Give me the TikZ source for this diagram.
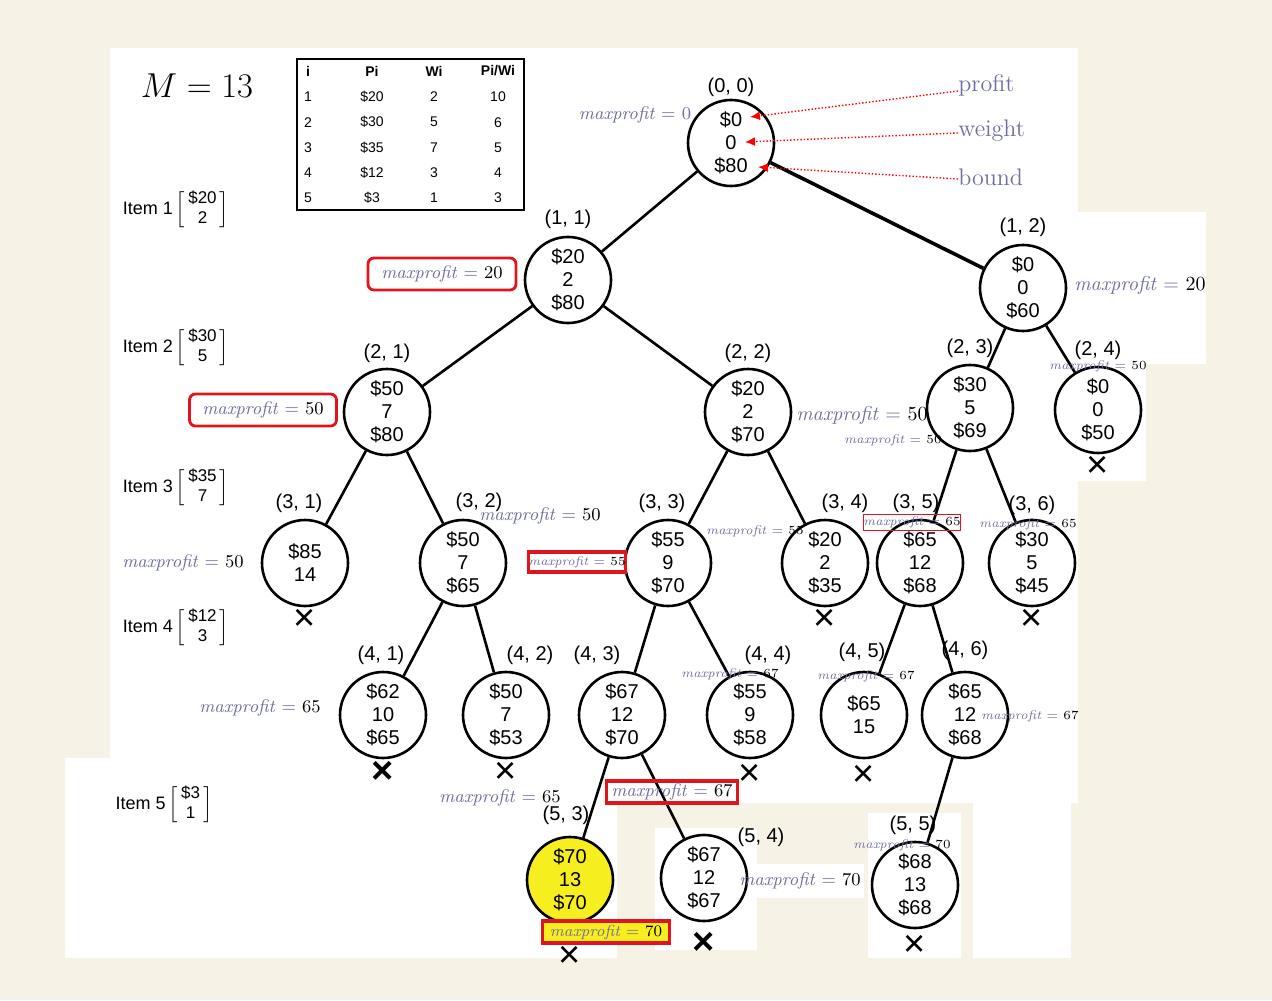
\documentclass[tikz,border=0pt]{standalone}
\usepackage{fontspec}
\setsansfont{Liberation Sans}
\usetikzlibrary{arrows.meta, positioning}
\usepackage{xcolor}

\definecolor{cream}{HTML}{F6F3E6}
\definecolor{mpblue}{HTML}{6E6EA0}
\definecolor{boxred}{HTML}{E0141C}
\definecolor{hlyellow}{HTML}{F6EE1E}

\newcommand{\maxp}[1]{\textcolor{mpblue}{\textit{maxprofit} =}~#1}
\newcommand{\itemvec}[3]{Item #1\,$\left[\begin{array}{@{\,}c@{\,}}\mbox{\fontsize{8.5}{9}\selectfont #2}\\[1pt]\mbox{\fontsize{8.5}{9}\selectfont #3}\end{array}\right]$}

\begin{document}
\begin{tikzpicture}[x=0.5pt, y=-0.5pt]

  % styles
  \tikzstyle{state} = [circle, draw=black, line width=1.3pt, minimum size=43pt, inner sep=0pt, align=center, font=\sffamily\fontsize{10}{11.5}\selectfont]
  \tikzstyle{idx} = [inner sep=1pt, font=\sffamily\fontsize{10}{10}\selectfont]
  \tikzstyle{cut} = [inner sep=0pt, font=\sffamily\fontsize{19}{19}\selectfont]
  \tikzstyle{edge} = [line width=1.3pt]
  \tikzstyle{mpa} = [inner sep=0pt, font=\fontsize{9}{9}\selectfont]
  \tikzstyle{mpb} = [inner sep=0pt, font=\fontsize{6.2}{6.2}\selectfont]
  \tikzstyle{mpc} = [inner sep=0pt, font=\fontsize{10}{10}\selectfont]
  \tikzstyle{hit} = [draw=boxred, line width=1.4pt, inner sep=0pt]
  \tikzstyle{tab} = [inner sep=0pt, font=\sffamily\fontsize{7}{7}\selectfont]
  \tikzstyle{note} = [anchor=west, inner sep=0pt, text=mpblue, font=\fontsize{12}{12}\selectfont]
  \tikzstyle{pointer} = [draw=red, densely dotted, line width=0.7pt, -{Latex[length=5pt, width=4.5pt]}]
  \tikzstyle{itemlbl} = [font=\sffamily\fontsize{9}{9}\selectfont]

  % background
  \fill[cream] (0,0) rectangle (1272,1000);
  \fill[white] (110,48) rectangle (1078,803);
  \fill[white] (1078,212) rectangle (1206,364);
  \fill[white] (1078,364) rectangle (1146,481);
  \fill[white] (65,758) rectangle (617,958);
  \fill[white] (655,828) rectangle (757,950);
  \fill[white] (740,864) rectangle (864,898);
  \fill[white] (868,813) rectangle (961,958);
  \fill[white] (973,803) rectangle (1071,958);
  \useasboundingbox (0,0) rectangle (1272,1000);

  % capacity and table
  \node (cap) at (197,86) {\fontsize{18}{18}\selectfont $M = 13$};
  \draw[line width=0.8pt] (297,59) rectangle (524,210);
  \node (hi) [tab] at (308,71) {\bfseries i};
  \node (hp) [tab] at (372,71) {\bfseries Pi};
  \node (hw) [tab] at (434,71) {\bfseries Wi};
  \node (hr) [tab] at (498,71) {\bfseries Pi/Wi};
  \foreach \i/\p/\w/\r [count=\k from 0] in {1/\$20/2/10, 2/\$30/5/6, 3/\$35/7/5, 4/\$12/3/4, 5/\$3/1/3} {
    \node (ti\i) [tab] at (308,{97+25.2*\k}) {\i};
    \node (tp\i) [tab] at (372,{97+25.2*\k}) {\p};
    \node (tw\i) [tab] at (434,{97+25.2*\k}) {\w};
    \node (tr\i) [tab] at (498,{97+25.2*\k}) {\r};
  }

  % items
  \node (it1) [itemlbl] at (176,210) {\itemvec{1}{\$20}{2}};
  \node (it2) [itemlbl] at (176,348) {\itemvec{2}{\$30}{5}};
  \node (it3) [itemlbl] at (176,488) {\itemvec{3}{\$35}{7}};
  \node (it4) [itemlbl] at (176,628) {\itemvec{4}{\$12}{3}};
  \node (it5) [itemlbl] at (164,805) {\itemvec{5}{\$3}{1}};

  % tree
  \node (n00) [state] at (731,143) {\$0\\0\\\$80};
  \node (n11) [state] at (568,280) {\$20\\2\\\$80};
  \node (n12) [state] at (1023,288) {\$0\\0\\\$60};
  \node (n21) [state] at (387,412) {\$50\\7\\\$80};
  \node (n22) [state] at (748,412) {\$20\\2\\\$70};
  \node (n23) [state] at (970,408) {\$30\\5\\\$69};
  \node (n24) [state] at (1098,410) {\$0\\0\\\$50};
  \node (n31) [state] at (305,563) {\$85\\14};
  \node (n32) [state] at (463,563) {\$50\\7\\\$65};
  \node (n33) [state] at (668,563) {\$55\\9\\\$70};
  \node (n34) [state] at (825,563) {\$20\\2\\\$35};
  \node (n35) [state] at (920,563) {\$65\\12\\\$68};
  \node (n36) [state] at (1032,563) {\$30\\5\\\$45};
  \node (n41) [state] at (383,715) {\$62\\10\\\$65};
  \node (n42) [state] at (506,715) {\$50\\7\\\$53};
  \node (n43) [state] at (622,715) {\$67\\12\\\$70};
  \node (n44) [state] at (750,715) {\$55\\9\\\$58};
  \node (n45) [state] at (864,715) {\$65\\15};
  \node (n46) [state] at (965,715) {\$65\\12\\\$68};
  \node (n53) [state, fill=hlyellow] at (570,880) {\$70\\13\\\$70};
  \node (n54) [state] at (704,878) {\$67\\12\\\$67};
  \node (n55) [state] at (915,885) {\$68\\13\\\$68};

  % node labels
  \node (l00) [idx, above=0pt of n00] {(0, 0)};
  \node (l11) [idx, above=2.5pt of n11] {(1, 1)};
  \node (l12) [idx, above=2.5pt of n12] {(1, 2)};
  \node (l21) [idx, above=1.5pt of n21] {(2, 1)};
  \node (l22) [idx, above=1.5pt of n22] {(2, 2)};
  \node (l23) [idx, above=2pt of n23] {(2, 3)};
  \node (l24) [idx, above=2pt of n24] {(2, 4)};
  \node (l31) [idx, above=2pt of n31, xshift=-3pt] {(3, 1)};
  \node (l32) [idx, above=2.5pt of n32, xshift=8pt] {(3, 2)};
  \node (l33) [idx, above=2pt of n33, xshift=-3pt] {(3, 3)};
  \node (l34) [idx, above=2pt of n34, xshift=10pt] {(3, 4)};
  \node (l35) [idx, above=2pt of n35, xshift=-2pt] {(3, 5)};
  \node (l36) [idx, above=1pt of n36] {(3, 6)};
  \node (l41) [idx, above=2pt of n41, xshift=-1pt] {(4, 1)};
  \node (l42) [idx, above=2pt of n42, xshift=12pt] {(4, 2)};
  \node (l43) [idx, above=2pt of n43, xshift=-12.5pt] {(4, 3)};
  \node (l44) [idx, above=2pt of n44, xshift=9pt] {(4, 4)};
  \node (l45) [idx, above=3.5pt of n45, xshift=-1pt] {(4, 5)};
  \node (l46) [idx, above=4.5pt of n46] {(4, 6)};
  \node (l53) [idx, above=4.5pt of n53, xshift=-2pt] {(5, 3)};
  \node (l54) [idx, above right=-1pt and 0pt of n54] {(5, 4)};
  \node (l55) [idx, above=2pt of n55, xshift=-1pt] {(5, 5)};

  % edges
  \draw [edge] (n00) -- (n11);
  \draw [edge, line width=1.8pt] (n00) -- (n12);
  \draw [edge] (n11) -- (n21);
  \draw [edge] (n11) -- (n22);
  \draw [edge] (n12) -- (n23);
  \draw [edge] (n12) -- (n24);
  \draw [edge] (n21) -- (n31);
  \draw [edge] (n21) -- (n32);
  \draw [edge] (n22) -- (n33);
  \draw [edge] (n22) -- (n34);
  \draw [edge] (n23) -- (n35);
  \draw [edge] (n23) -- (n36);
  \draw [edge] (n32) -- (n41);
  \draw [edge] (n32) -- (n42);
  \draw [edge] (n33) -- (n43);
  \draw [edge] (n33) -- (n44);
  \draw [edge] (n35) -- (n45);
  \draw [edge] (n35) -- (n46);
  \draw [edge] (n43) -- (n53);
  \draw [edge] (n43) -- (n54);
  \draw [edge] (n46) -- (n55);

  % pruned
  \node (x24) [cut, below=1pt of n24] {×};
  \node (x31) [cut, below=1pt of n31] {×};
  \node (x34) [cut, below=1pt of n34] {×};
  \node (x36) [cut, below=1pt of n36] {×};
  \node (x41) [cut, below=1pt of n41] {\bfseries ×};
  \node (x42) [cut, below=1.5pt of n42] {×};
  \node (x44) [cut, below=2.5pt of n44] {×};
  \node (x45) [cut, below=3pt of n45] {×};
  \node (x53) [cut, below=11pt of n53] {×};
  \node (x54) [cut, below=5pt of n54] {\bfseries ×};
  \node (x55) [cut, below=3pt of n55] {×};

  % maxprofit
  \node (m00) [mpa, text=mpblue] at (635,115) {\maxp{0}};
  \node (m11) [mpa, hit, rounded corners=3pt, minimum width=74pt, minimum height=16pt] at (442,274) {\maxp{20}};
  \node (m12) [mpc] at (1140,285) {\maxp{20}};
  \node (m21) [mpa, hit, rounded corners=3pt, minimum width=73.5pt, minimum height=16pt] at (263,410) {\maxp{50}};
  \node (m22) [mpc] at (862,415) {\maxp{50}};
  \node (m23) [mpb] at (893,440) {\maxp{50}};
  \node (m24) [mpb] at (1098,366) {\maxp{50}};
  \node (m31) [mpa] at (183,563) {\maxp{50}};
  \node (m32) [mpa] at (540,516) {\maxp{50}};
  \node (m33) [mpb, hit, line width=1.6pt, minimum width=45pt, minimum height=10pt] at (577,562) {\maxp{55}};
  \node (m34) [mpb] at (755,531) {\maxp{55}};
  \node (m35) [mpb, hit, line width=0.5pt, minimum width=48.5pt, minimum height=8pt] at (912,522) {\maxp{65}};
  \node (m36) [mpb] at (1028,524) {\maxp{65}};
  \node (m41) [mpa] at (260,708) {\maxp{65}};
  \node (m43) [mpb] at (730,674) {\maxp{67}};
  \node (m45) [mpb] at (866,676) {\maxp{67}};
  \node (m46) [mpb] at (1030,716) {\maxp{67}};
  \node (m42) [mpa] at (500,798) {\maxp{65}};
  \node (m44) [mpa, hit, line width=1.6pt, minimum width=65.5pt, minimum height=11pt] at (672,792) {\maxp{67}};
  \node (m53) [mpb, font=\fontsize{8}{8}\selectfont, hit, fill=hlyellow, line width=1.6pt, minimum width=63.5pt, minimum height=11pt] at (606,932) {\maxp{70}};
  \node (m54) [mpa] at (800,881) {\maxp{70}};
  \node (m55) [mpb] at (902,845) {\maxp{70}};

  % legend
  \node (profit) [note] at (958,85) {profit};
  \node (weight) [note] at (958,131) {weight};
  \node (bound) [note] at (958,177) {bound};
  \coordinate (pprofit) at ([xshift=9.5pt, yshift=13pt]n00.center);
  \coordinate (pweight) at ([xshift=7pt, yshift=0.5pt]n00.center);
  \coordinate (pbound) at ([xshift=13.5pt, yshift=-12pt]n00.center);
  \draw [pointer] ([yshift=-3pt]profit.west) -- (pprofit);
  \draw [pointer] ([yshift=-1pt]weight.west) -- (pweight);
  \draw [pointer] ([yshift=-1pt]bound.west) -- (pbound);

\end{tikzpicture}
\end{document}
